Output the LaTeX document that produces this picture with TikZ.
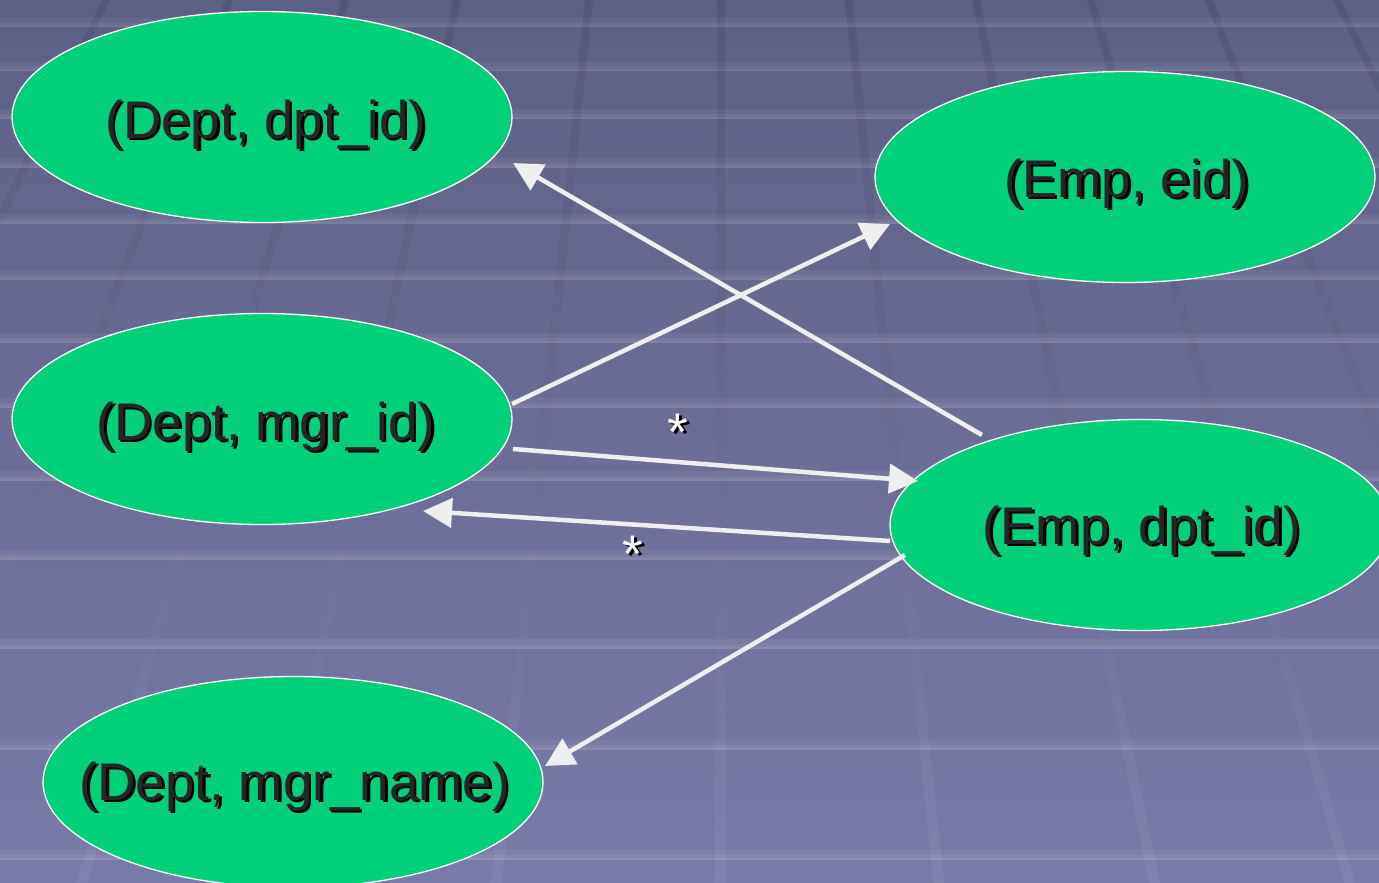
\documentclass[tikz,border=0pt]{standalone}
\usepackage{fontspec}
\setmainfont{Liberation Sans}
\usetikzlibrary{shapes.geometric,arrows.meta,calc}

\definecolor{bgtop}{RGB}{93,96,133}
\definecolor{bgmid}{RGB}{107,109,149}
\definecolor{bgbot}{RGB}{121,123,168}
\definecolor{jointtop}{RGB}{84,86,121}
\definecolor{jointmid}{RGB}{101,103,142}
\definecolor{jointbot}{RGB}{128,130,174}
\definecolor{nodegreen}{RGB}{0,208,122}
\definecolor{wire}{RGB}{238,238,238}
\definecolor{ink}{RGB}{38,38,38}

% text with a dark drop shadow down and to the right
\newcommand\dropshade[2]{\leavevmode\rlap{\kern2.5pt\raisebox{-2.5pt}{\color{black}#2}}{\color{#1}#2}}

\tikzset{
  entity/.style={ellipse, draw=white, line width=1.3pt, fill=nodegreen,
                 minimum width=500pt, minimum height=211pt, inner sep=0pt},
  lbl/.style={font=\fontsize{53}{60}\selectfont, inner sep=0pt, anchor=base},
  link/.style={draw=wire, line width=4.5pt, -{Triangle[length=29pt,width=29pt]}},
  mult/.style={font=\fontsize{53}{60}\selectfont, inner sep=0pt, anchor=base},
}

\begin{document}
\begin{tikzpicture}[x=1pt,y=-1pt]
\useasboundingbox (0,0) rectangle (1379,883);
\clip (0,0) rectangle (1379,883);

% tiled floor background
\shade[top color=bgtop, middle color=bgmid, bottom color=bgbot] (0,0) rectangle (1379,883);
\foreach \x in {106,229,345,457,589,721,849,976,1091,1209,1337}
  \shade[top color=jointtop, middle color=jointmid, bottom color=jointbot]
    ({\x-4},0) -- ({\x+4},0) -- ({721+(\x-721)*1.7+5.5},883) -- ({721+(\x-721)*1.7-5.5},883) -- cycle;
\foreach \y in {26,70,117,166,222,278,341,406,479,558,647,748,858} {
  \fill[white,opacity=0.05] (0,\y-8) rectangle (1379,\y-3);
  \fill[white,opacity=0.10] (0,\y-3) rectangle (1379,\y);
  \fill[white,opacity=0.16] (0,\y) rectangle (1379,\y+1.5);
}

% entities
\node[entity] (dd) at (262,117) {};
\node[entity] (ee) at (1125,177) {};
\node[entity] (dm) at (262,419) {};
\node[entity] (ed) at (1140,525) {};
\node[entity] (dn) at (293,782) {};

\node[lbl] (ddt) at (266,138) {\dropshade{ink}{(Dept, dpt\_id)}};
\node[lbl] (eet) at (1127,197) {\dropshade{ink}{(Emp, eid)}};
\node[lbl] (dmt) at (266,440) {\dropshade{ink}{(Dept, mgr\_id)}};
\node[lbl] (edt) at (1142,544) {\dropshade{ink}{(Emp, dpt\_id)}};
\node[lbl] (dnt) at (295,800) {\dropshade{ink}{(Dept, mgr\_name)}};

% dependencies
\draw[link] ($(ed.center)+(-158,-90)$) -- ($(dd.center)+(251,46)$);
\draw[link] ($(dm.center)+(250,-15)$) -- ($(ee.center)+(-235,47)$);
\draw[link] ($(dm.center)+(251,30)$) -- ($(ed.center)+(-222,-44)$);
\draw[link] ($(ed.center)+(-250,16)$) -- ($(dm.center)+(161,92)$);
\draw[link] ($(ed.center)+(-235,30)$) -- ($(dn.center)+(252,-16)$);

% multiplicity marks
\node[mult] (m1) at (678,450) {\dropshade{white}{*}};
\node[mult] (m2) at (633,572) {\dropshade{white}{*}};
\end{tikzpicture}
\end{document}
